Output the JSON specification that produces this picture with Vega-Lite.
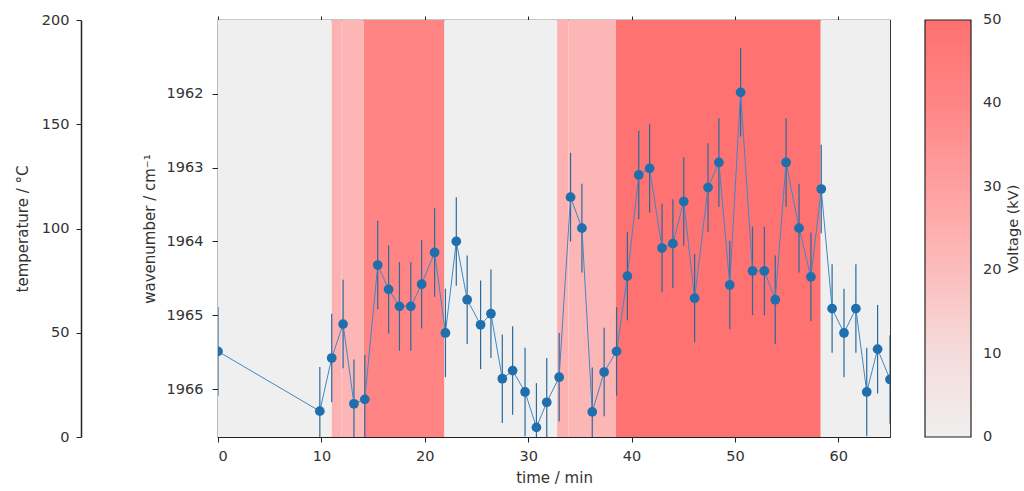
{
  "$schema": "https://vega.github.io/schema/vega-lite/v6.json",
  "description": "Wavenumber over time with voltage bands and colorbar.",
  "autosize": {"type": "none"},
  "padding": {"left": 218, "top": 20, "right": 134, "bottom": 54},
  "width": 672,
  "height": 417,
  "background": "white",
  "config": {
    "font": "DejaVu Sans",
    "view": {"stroke": "#222", "strokeWidth": 1.2},
    "axis": {
      "labelFont": "DejaVu Sans",
      "titleFont": "DejaVu Sans",
      "labelFontSize": 14.5,
      "titleFontSize": 15,
      "labelColor": "#333",
      "titleColor": "#333",
      "titleFontWeight": "normal",
      "tickColor": "#222",
      "domainColor": "#222",
      "grid": false
    },
    "legend": {
      "labelFont": "DejaVu Sans",
      "titleFont": "DejaVu Sans",
      "labelFontSize": 14.5,
      "titleFontSize": 14.5,
      "labelColor": "#333",
      "titleColor": "#333",
      "titleFontWeight": "normal"
    }
  },
  "datasets": {
    "bands": [
      {"start": 0, "end": 11.0, "kV": 0},
      {"start": 11.0, "end": 11.95, "kV": 24},
      {"start": 11.95, "end": 14.1, "kV": 22},
      {"start": 14.1, "end": 21.9, "kV": 40},
      {"start": 21.9, "end": 32.8, "kV": 0},
      {"start": 32.8, "end": 33.9, "kV": 24},
      {"start": 33.9, "end": 38.5, "kV": 22},
      {"start": 38.5, "end": 58.3, "kV": 49},
      {"start": 58.3, "end": 65, "kV": 0}
    ],
    "wave": [
      {"t": 0, "w": 1965.49, "err": 0.6},
      {"t": 9.85, "w": 1966.3, "err": 0.6},
      {"t": 11.0, "w": 1965.58, "err": 0.6},
      {"t": 12.1, "w": 1965.12, "err": 0.6},
      {"t": 13.15, "w": 1966.2, "err": 0.6},
      {"t": 14.2, "w": 1966.14, "err": 0.6},
      {"t": 15.45, "w": 1964.32, "err": 0.6},
      {"t": 16.5, "w": 1964.65, "err": 0.6},
      {"t": 17.55, "w": 1964.88, "err": 0.6},
      {"t": 18.65, "w": 1964.88, "err": 0.6},
      {"t": 19.7, "w": 1964.58, "err": 0.6},
      {"t": 20.95, "w": 1964.15, "err": 0.6},
      {"t": 22.0, "w": 1965.24, "err": 0.6},
      {"t": 23.05, "w": 1964.0, "err": 0.6},
      {"t": 24.1, "w": 1964.79, "err": 0.6},
      {"t": 25.4, "w": 1965.13, "err": 0.6},
      {"t": 26.4, "w": 1964.98, "err": 0.6},
      {"t": 27.5, "w": 1965.86, "err": 0.6},
      {"t": 28.5, "w": 1965.75, "err": 0.6},
      {"t": 29.7, "w": 1966.04, "err": 0.6},
      {"t": 30.8, "w": 1966.52, "err": 0.6},
      {"t": 31.8, "w": 1966.18, "err": 0.6},
      {"t": 33.0, "w": 1965.84, "err": 0.6},
      {"t": 34.1, "w": 1963.4, "err": 0.6},
      {"t": 35.2, "w": 1963.82, "err": 0.6},
      {"t": 36.2, "w": 1966.31, "err": 0.6},
      {"t": 37.35, "w": 1965.77, "err": 0.6},
      {"t": 38.55, "w": 1965.49, "err": 0.6},
      {"t": 39.6, "w": 1964.47, "err": 0.6},
      {"t": 40.7, "w": 1963.1, "err": 0.6},
      {"t": 41.75, "w": 1963.01, "err": 0.6},
      {"t": 42.95, "w": 1964.09, "err": 0.6},
      {"t": 44.0, "w": 1964.03, "err": 0.6},
      {"t": 45.05, "w": 1963.46, "err": 0.6},
      {"t": 46.1, "w": 1964.77, "err": 0.6},
      {"t": 47.4, "w": 1963.27, "err": 0.6},
      {"t": 48.45, "w": 1962.93, "err": 0.6},
      {"t": 49.5, "w": 1964.59, "err": 0.6},
      {"t": 50.55, "w": 1961.98, "err": 0.6},
      {"t": 51.7, "w": 1964.4, "err": 0.6},
      {"t": 52.85, "w": 1964.4, "err": 0.6},
      {"t": 53.9, "w": 1964.79, "err": 0.6},
      {"t": 54.95, "w": 1962.93, "err": 0.6},
      {"t": 56.2, "w": 1963.82, "err": 0.6},
      {"t": 57.35, "w": 1964.48, "err": 0.6},
      {"t": 58.35, "w": 1963.29, "err": 0.6},
      {"t": 59.4, "w": 1964.91, "err": 0.6},
      {"t": 60.55, "w": 1965.24, "err": 0.6},
      {"t": 61.7, "w": 1964.91, "err": 0.6},
      {"t": 62.75, "w": 1966.04, "err": 0.6},
      {"t": 63.8, "w": 1965.46, "err": 0.6},
      {"t": 65.0, "w": 1965.87, "err": 0.6}
    ]
  },
  "layer": [
    {
      "data": {"name": "bands"},
      "mark": {"type": "rect", "clip": true},
      "encoding": {
        "x": {
          "field": "start",
          "type": "quantitative",
          "scale": {"domain": [0, 65], "nice": false, "zero": false},
          "axis": {
            "orient": "top",
            "values": [0, 10, 20, 30, 40, 50, 60],
            "labels": false,
            "domain": false,
            "ticks": true,
            "tickSize": 4,
            "title": null
          }
        },
        "x2": {"field": "end"},
        "y": {
          "datum": 0,
          "type": "quantitative",
          "scale": {"domain": [0, 200], "nice": false},
          "axis": {
            "orient": "left",
            "offset": 137,
            "values": [0, 50, 100, 150, 200],
            "format": "d",
            "domain": true,
            "domainWidth": 1.5,
            "tickSize": 5,
            "labelPadding": 7,
            "title": "temperature / °C",
            "titlePadding": 11
          }
        },
        "y2": {"datum": 200},
        "color": {
          "field": "kV",
          "type": "quantitative",
          "scale": {
            "domain": [0, 10, 20, 30, 40, 50],
            "range": ["#efefef", "#f5dcdc", "#fcbcbc", "#ffa0a0", "#ff8585", "#ff7070"]
          },
          "legend": {
            "orient": "none",
            "legendX": 707,
            "legendY": 0,
            "direction": "vertical",
            "gradientLength": 417,
            "gradientThickness": 46,
            "gradientStrokeColor": "#222",
            "gradientStrokeWidth": 1.2,
            "values": [0, 10, 20, 30, 40, 50],
            "labelOffset": 12,
            "labelBaseline": "middle",
            "labelOverlap": false,
            "padding": 0,
            "title": "Voltage (kV)",
            "titleOrient": "right",
            "titleAnchor": "middle",
            "titleBaseline": "middle",
            "titlePadding": 13,
            "encode": {
              "title": {"update": {"angle": {"value": 270}}},
              "labels": {"update": {"baseline": {"value": "middle"}}}
            }
          }
        }
      }
    },
    {
      "data": {"name": "wave"},
      "layer": [
        {
          "mark": {"type": "errorbar", "color": "#2b6a9b", "thickness": 1.2, "clip": true},
          "encoding": {
            "x": {"field": "t", "type": "quantitative", "scale": {"domain": [0, 65], "nice": false, "zero": false}, "axis": {"orient": "bottom", "values": [0, 10, 20, 30, 40, 50, 60], "domain": false, "tickSize": 5, "labelPadding": 7, "title": "time / min", "titlePadding": 8}},
            "y": {"field": "w", "type": "quantitative", "scale": {"domain": [1966.65, 1961], "nice": false, "zero": false}, "axis": {"orient": "left", "values": [1962, 1963, 1964, 1965, 1966], "format": "d", "domain": false, "tickSize": 6, "labelPadding": 9, "title": "wavenumber / cm⁻¹", "titlePadding": 9}},
            "yError": {"field": "err"}
          }
        },
        {
          "mark": {"type": "line", "color": "#3f88c5", "strokeWidth": 1, "clip": true},
          "encoding": {
            "x": {"field": "t", "type": "quantitative", "scale": {"domain": [0, 65], "nice": false, "zero": false}, "axis": {"orient": "bottom", "values": [0, 10, 20, 30, 40, 50, 60], "domain": false, "tickSize": 5, "labelPadding": 7, "title": "time / min", "titlePadding": 8}},
            "y": {"field": "w", "type": "quantitative", "scale": {"domain": [1966.65, 1961], "nice": false, "zero": false}, "axis": {"orient": "left", "values": [1962, 1963, 1964, 1965, 1966], "format": "d", "domain": false, "tickSize": 6, "labelPadding": 9, "title": "wavenumber / cm⁻¹", "titlePadding": 9}}
          }
        },
        {
          "mark": {"type": "point", "filled": true, "color": "#1f6fad", "opacity": 1, "size": 95, "clip": true},
          "encoding": {
            "x": {"field": "t", "type": "quantitative", "scale": {"domain": [0, 65], "nice": false, "zero": false}, "axis": {"orient": "bottom", "values": [0, 10, 20, 30, 40, 50, 60], "domain": false, "tickSize": 5, "labelPadding": 7, "title": "time / min", "titlePadding": 8}},
            "y": {"field": "w", "type": "quantitative", "scale": {"domain": [1966.65, 1961], "nice": false, "zero": false}, "axis": {"orient": "left", "values": [1962, 1963, 1964, 1965, 1966], "format": "d", "domain": false, "tickSize": 6, "labelPadding": 9, "title": "wavenumber / cm⁻¹", "titlePadding": 9}}
          }
        }
      ]
    }
  ],
  "resolve": {"scale": {"x": "independent", "y": "independent"}}
}
